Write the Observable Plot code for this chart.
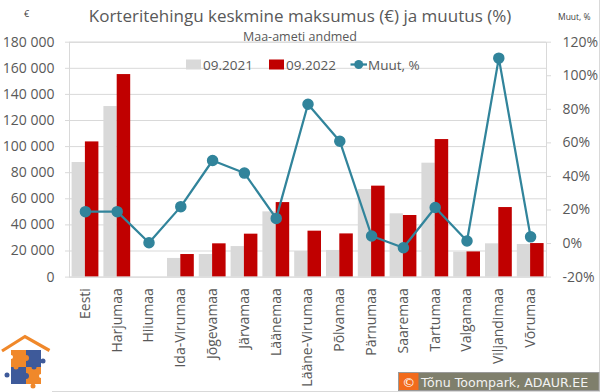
<!DOCTYPE html>
<html>
<head>
<meta charset="utf-8">
<script src="https://cdn.jsdelivr.net/npm/d3@7"></script>
<script src="https://cdn.jsdelivr.net/npm/@observablehq/plot@0.6"></script>
<style>
  html, body { margin: 0; padding: 0; background: #fff; }
  #wrap { position: relative; width: 600px; height: 392px; overflow: hidden; font-family: "Open Sans", sans-serif; color: #595959; }
  #wrap svg.plot { position: absolute; left: 0; top: 0; }
  .abs { position: absolute; white-space: nowrap; }
</style>
</head>
<body>
<div id="wrap"></div>
<script>
const regions = ["Eesti","Harjumaa","Hiiumaa","Ida-Virumaa","Jõgevamaa","Järvamaa","Läänemaa","Lääne-Virumaa","Põlvamaa","Pärnumaa","Saaremaa","Tartumaa","Valgamaa","Viljandimaa","Võrumaa"];
const price2021 = [87800,130700,null,14300,17300,23400,50000,19600,20400,67100,48500,87300,19100,25500,25000];
const price2022 = [103600,155200,null,17300,25500,32900,57100,35200,33100,69700,47200,105400,19300,53300,25700];
const changePct = [19,19,0.5,22,49.5,42,15,83,61,4.5,-2.5,21.5,1.5,110.5,4];
const leftTicks = [0,20000,40000,60000,80000,100000,120000,140000,160000,180000];
const rightTicks = [-20,0,20,40,60,80,100,120];
const seriesNames = ["09.2021","09.2022","Muut, %"];
const colors = {gray: "#d9d9d9", red: "#c00000", teal: "#31849b", text: "#595959", grid: "#d9d9d9"};

const data = regions.map((r, i) => ({region: r, a: price2021[i], b: price2022[i], pct: changePct[i]}));

// secondary axis mapping: percent domain [-20,120] onto the primary y domain [0,180000]
const yMax = 180000, pMin = -20, pMax = 120;
const toY = p => (p - pMin) / (pMax - pMin) * yMax;
const fromY = v => v / yMax * (pMax - pMin) + pMin;

const fmt = d3.formatLocale({thousands: " ", grouping: [3], decimal: ","}).format(",");

const chart = Plot.plot({
  width: 600,
  height: 392,
  marginTop: 41.7,
  marginBottom: 115.4,
  marginLeft: 69,
  marginRight: 54,
  style: {fontFamily: "Open Sans, sans-serif", fontSize: "14px", color: colors.text, background: "transparent"},
  x: {type: "band", domain: regions, padding: 0, round: false, label: null},
  y: {domain: [0, yMax], label: null},
  marks: [
    Plot.gridY(leftTicks, {stroke: colors.grid, strokeOpacity: 1}),
    Plot.barY(data, {x: "region", y: "a", fill: colors.gray, insetLeft: 2.6, insetRight: 15.9}),
    Plot.barY(data, {x: "region", y: "b", fill: colors.red, insetLeft: 15.9, insetRight: 2.4}),
    Plot.frame({stroke: colors.grid, strokeOpacity: 1}),
    Plot.axisY({anchor: "left", ticks: leftTicks, tickFormat: fmt, tickSize: 4, tickPadding: 11, stroke: colors.grid, fill: colors.text, fontSize: 14, label: null}),
    Plot.axisY({anchor: "right", ticks: rightTicks.map(toY), tickFormat: v => Math.round(fromY(v)) + "%", tickSize: 4, tickPadding: 12, textAnchor: "start", stroke: colors.grid, fill: colors.text, fontSize: 14, label: null}),
    Plot.axisX({tickRotate: -90, tickSize: 0, tickPadding: 11, fill: colors.text, fontSize: 14, label: null}),
    Plot.line(data, {x: "region", y: d => toY(d.pct), stroke: colors.teal, strokeWidth: 2.25}),
    Plot.dot(data, {x: "region", y: d => toY(d.pct), r: 5, fill: colors.teal, stroke: colors.teal})
  ]
});
chart.classList.add("plot");
const wrap = document.getElementById("wrap");
wrap.appendChild(chart);

function addDiv(html, css) {
  const d = document.createElement("div");
  d.className = "abs";
  d.innerHTML = html;
  Object.assign(d.style, css);
  wrap.appendChild(d);
  return d;
}

// Title and subtitle
addDiv("Korteritehingu keskmine maksumus (€) ja muutus (%)", {left: "0px", width: "600px", textAlign: "center", top: "4px", fontSize: "17px", lineHeight: "24px", color: colors.text});
addDiv("Maa-ameti andmed", {left: "0px", width: "600px", textAlign: "center", top: "29px", fontSize: "12.5px", lineHeight: "16px", color: colors.text});
// axis unit labels
addDiv("€", {left: "24px", top: "8px", fontSize: "9px", lineHeight: "12px", color: "#404040"});
addDiv("Muut, %", {left: "558px", top: "11px", fontSize: "8.5px", lineHeight: "12px", color: "#404040"});

// legend, frame edges, logo and credit box
const leg = document.createElementNS("http://www.w3.org/2000/svg", "svg");
leg.setAttribute("width", 600); leg.setAttribute("height", 392);
leg.style.position = "absolute"; leg.style.left = "0"; leg.style.top = "0";
leg.innerHTML = `
  <rect x="186" y="59.5" width="15" height="10" fill="${colors.gray}"/>
  <text x="203" y="69.5" font-family="Open Sans" font-size="13.5" fill="${colors.text}">${seriesNames[0]}</text>
  <rect x="269" y="59.5" width="15" height="10" fill="${colors.red}"/>
  <text x="286" y="69.5" font-family="Open Sans" font-size="13.5" fill="${colors.text}">${seriesNames[1]}</text>
  <line x1="350.5" x2="367" y1="64.5" y2="64.5" stroke="${colors.teal}" stroke-width="2.25"/>
  <circle cx="358.7" cy="64.5" r="4.5" fill="${colors.teal}"/>
  <text x="368" y="69.5" font-family="Open Sans" font-size="13.5" fill="${colors.text}">${seriesNames[2]}</text>
  <line x1="0" x2="600" y1="391.5" y2="391.5" stroke="#d9d9d9"/>
  <line x1="599.5" x2="599.5" y1="0" y2="392" stroke="#d9d9d9"/>
  <g>
    <rect x="0" y="330" width="52" height="62" fill="#fff"/>
    <polyline points="2,351 25,336.5 49.5,350.5" fill="none" stroke="#f0882a" stroke-width="3.2"/>
    <rect x="11" y="350" width="15" height="17" fill="#f0882a"/>
    <rect x="26" y="350" width="15" height="17" fill="#3e5a9a"/>
    <rect x="11" y="367" width="15" height="17" fill="#3e5a9a"/>
    <rect x="26" y="367" width="15" height="17" fill="#f0882a"/>
    <circle cx="26" cy="358" r="3" fill="#f0882a"/>
    <circle cx="43" cy="361" r="2.5" fill="#3e5a9a"/>
    <circle cx="7" cy="375" r="2.5" fill="#3e5a9a"/>
    <circle cx="26" cy="376" r="3" fill="#3e5a9a"/>
    <circle cx="33" cy="386" r="2.5" fill="#f0882a"/>
    <circle cx="16" cy="367" r="2.5" fill="#f0882a"/>
    <circle cx="34" cy="367" r="2.5" fill="#3e5a9a"/>
    <circle cx="11" cy="357" r="2" fill="#fff"/>
    <circle cx="41" cy="376" r="2" fill="#fff"/>
  </g>
  <rect x="398.5" y="372.5" width="200.5" height="18" fill="#7f7f6c" stroke="#9a9a9a"/>
  <rect x="399" y="373" width="19.5" height="17" fill="#f26b1c"/>
  <text x="408.7" y="386.5" text-anchor="middle" font-family="DejaVu Sans" font-size="13" fill="#fff">©</text>
  <text x="421" y="386.5" font-family="DejaVu Sans" font-size="12.6" fill="#f2f2f2">Tõnu Toompark, ADAUR.EE</text>
`;
wrap.appendChild(leg);
</script>
</body>
</html>
